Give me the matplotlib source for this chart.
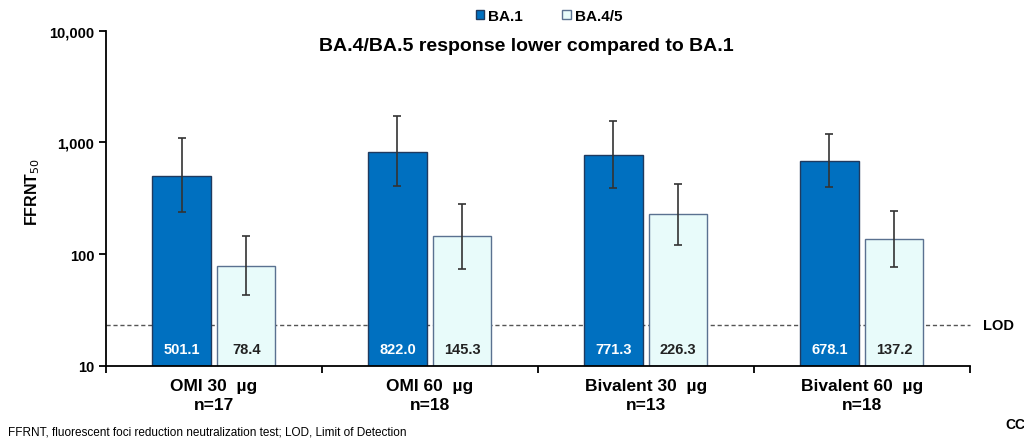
import numpy as np
import matplotlib.pyplot as plt
from matplotlib.patches import Patch

plt.rcParams['font.family'] = ['Liberation Sans', 'DejaVu Sans']

groups = ['OMI 30  µg\nn=17', 'OMI 60  µg\nn=18', 'Bivalent 30  µg\nn=13', 'Bivalent 60  µg\nn=18']
ba1 = [501.1, 822.0, 771.3, 678.1]
ba1_lo = [236, 407, 387, 395]
ba1_hi = [1093, 1711, 1552, 1186]
ba45 = [78.4, 145.3, 226.3, 137.2]
ba45_lo = [42.7, 74, 121, 76.6]
ba45_hi = [145, 283, 426, 243]
lod = 23.1

c_ba1 = '#0070C0'
c_ba45 = '#E8FBFA'

fig = plt.figure(figsize=(10.24, 4.39), dpi=100)
ax = fig.add_axes([0.1035, 0.1647, 0.8435, 0.7633])

x = np.arange(len(groups))
w = 0.27
off = 0.15
bottom = 10

ba1 = np.array(ba1)
ba45 = np.array(ba45)
err1 = [ba1 - np.array(ba1_lo), np.array(ba1_hi) - ba1]
err2 = [ba45 - np.array(ba45_lo), np.array(ba45_hi) - ba45]

ax.bar(x - off, ba1 - bottom, w, bottom=bottom, color=c_ba1, edgecolor='#1F3A5F', linewidth=1, zorder=2)
ax.bar(x + off, ba45 - bottom, w, bottom=bottom, color=c_ba45, edgecolor='#5A7190', linewidth=1, zorder=2)
ax.errorbar(x - off, ba1, yerr=err1, fmt='none', ecolor='#333333', elinewidth=1.2, capsize=3, capthick=1.2, zorder=3)
ax.errorbar(x + off, ba45, yerr=err2, fmt='none', ecolor='#333333', elinewidth=1.2, capsize=3, capthick=1.2, zorder=3)

for i in range(len(groups)):
    ax.text(x[i] - off, 14, f'{ba1[i]:.1f}', ha='center', va='center', color='white', fontsize=10.5, fontweight='bold', zorder=4)
    ax.text(x[i] + off, 14, f'{ba45[i]:.1f}', ha='center', va='center', color='#222222', fontsize=10.5, fontweight='bold', zorder=4)

ax.axhline(lod, color='#555555', linestyle=(0, (3, 2)), linewidth=1, zorder=1, clip_on=False)
ax.text(1.015, lod, 'LOD', transform=ax.get_yaxis_transform(), va='center', ha='left', fontsize=10.5, fontweight='bold')

ax.set_yscale('log')
ax.set_ylim(10, 10000)
ax.set_xlim(-0.5, 3.5)
ax.set_yticks([10, 100, 1000, 10000])
ax.set_yticklabels(['10', '100', '1,000', '10,000'])
ax.minorticks_off()
ax.set_xticks(x)
ax.set_xticklabels(groups, linespacing=1.3)
ax.set_xticks(np.arange(-0.5, 4, 1), minor=True)
ax.tick_params(axis='x', which='major', length=0, pad=9, labelsize=12.5)
ax.tick_params(axis='x', which='minor', length=5, width=1.3, direction='out')
ax.tick_params(axis='y', length=5, width=1.3, direction='out', labelsize=10.5)
for lab in ax.get_xticklabels() + ax.get_yticklabels():
    lab.set_fontweight('bold')

for s in ['top', 'right']:
    ax.spines[s].set_visible(False)
for s in ['left', 'bottom']:
    ax.spines[s].set_linewidth(1.3)

ax.set_ylabel('FFRNT$_{50}$', fontsize=11.5, fontweight='bold')
ax.yaxis.set_label_coords(-0.074, 0.52)

ax.text(0.487, 0.957, 'BA.4/BA.5 response lower compared to BA.1', transform=ax.transAxes,
        ha='center', va='center', fontsize=14, fontweight='bold')

handles = [Patch(facecolor=c_ba1, edgecolor='#1F3A5F', label='BA.1'),
           Patch(facecolor=c_ba45, edgecolor='#5A7190', label='BA.4/5')]
leg = fig.legend(handles=handles, loc='center', bbox_to_anchor=(549 / 1024, 1 - 17 / 439), ncol=2,
                 frameon=False, handlelength=0.55, handleheight=0.55, handletextpad=0.25, columnspacing=2.6,
                 prop={'size': 11, 'weight': 'bold'})

fig.text(8 / 1024, 1 - 433 / 439, 'FFRNT, fluorescent foci reduction neutralization test; LOD, Limit of Detection',
         fontsize=8.5, va='center', ha='left')
fig.text(1005 / 1024, 1 - 425 / 439, 'CC', fontsize=10, fontweight='bold', va='center', ha='left')

fig.savefig('out.png', dpi=100)
